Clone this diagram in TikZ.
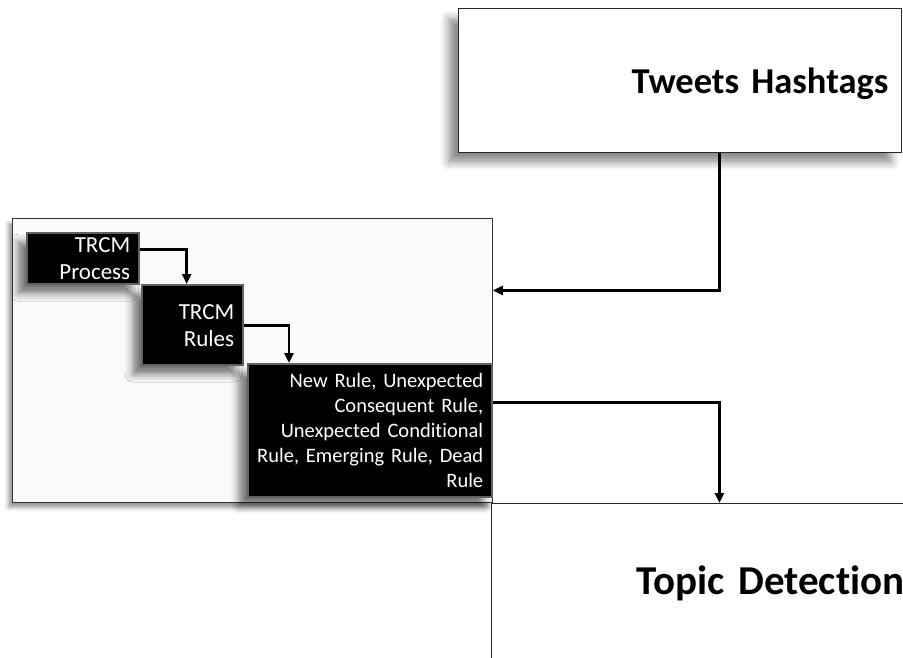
\documentclass[tikz,border=0pt]{standalone}
\usepackage{fontspec}
\setmainfont{Carlito}[Ligatures=NoCommon]
\usetikzlibrary{arrows.meta,shadows.blur}

\begin{document}
\begin{tikzpicture}[x=1pt,y=-1pt,
  panel/.style={draw=black!85, line width=0.8pt, fill=white, inner ysep=0pt, anchor=north west, align=right},
  stage/.style={fill=black, draw=black!62, line width=2.4pt, text=white, align=right,
    anchor=north west, inner xsep=9pt, inner ysep=0pt,
    font=\fontsize{23}{27}\selectfont,
    blur shadow={shadow xshift=-9pt, shadow yshift=-9pt, shadow blur radius=8pt, shadow opacity=55}},
  flow/.style={line width=2.6pt, -{Triangle[length=10pt,width=9pt]}},
]
\useasboundingbox (0,0) rectangle (903,657);

% input panel
\node[panel, inner xsep=13pt, minimum width=443pt, minimum height=144pt, text width=417pt,
      text depth=0pt, font=\bfseries\fontsize{36.5}{44}\selectfont,
      blur shadow={shadow xshift=-10pt, shadow yshift=-10pt, shadow blur radius=8pt, shadow opacity=45}]
  (tweets) at (458,8) {Tweets Hashtags};

% container holding the TRCM stages
\node[panel, draw=black!80, fill=black!2, minimum width=480pt, minimum height=284pt,
      blur shadow={shadow xshift=-4pt, shadow yshift=-5pt, shadow blur radius=4pt, shadow opacity=40}]
  (cont) at (12,218) {};

\node[stage, minimum width=112pt, minimum height=51pt, text width=94pt]
  (proc) at (26,232) {TRCM\\Process};
\node[stage, minimum width=101pt, minimum height=80pt, text width=83pt]
  (rules) at (141,284) {TRCM\\Rules};
\node[stage, minimum width=244pt, minimum height=133pt, text width=226pt,
      font=\fontsize{20.5}{25}\selectfont]
  (third) at (247,363) {New Rule, Unexpected\\Consequent Rule,\\Unexpected Conditional\\Rule, Emerging Rule, Dead\\Rule};

% output panel
\node[panel, inner xsep=8pt, minimum width=421pt, minimum height=160pt, text width=405pt,
      font=\bfseries\fontsize{41}{49}\selectfont]
  (topic) at (491,503) {Topic Detection};

% connectors
\coordinate (drop) at ([xshift=39.5pt]tweets.south);
\draw[flow] (drop) |- ([yshift=70pt]cont.east);
\draw[flow] ([yshift=9pt]proc.east) -| ([xshift=-6pt]rules.north);
\draw[flow] (rules.east) -| ([xshift=42pt]third.north west);
\draw[flow] ([yshift=28pt]third.east) -| (drop |- topic.north);
\end{tikzpicture}
\end{document}
